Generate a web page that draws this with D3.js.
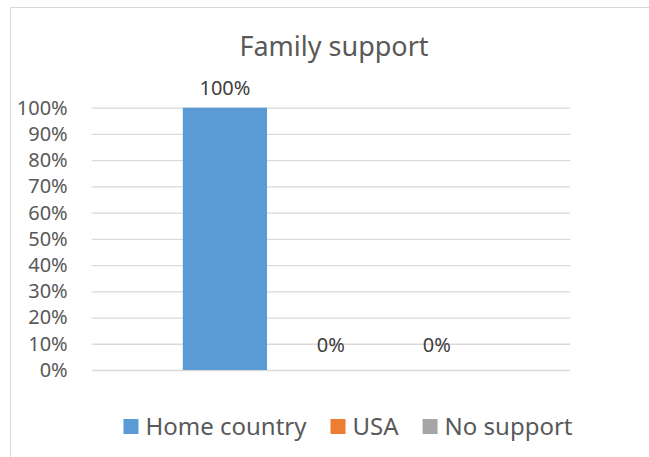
<!DOCTYPE html>
<html>
<head>
<meta charset="utf-8">
<script src="https://cdn.jsdelivr.net/npm/d3@7"></script>
<style>
  html, body { margin: 0; padding: 0; background: #fff; }
  svg { display: block; font-family: "Noto Sans", "Open Sans", sans-serif; }
</style>
</head>
<body>
<div id="chart"></div>
<script>
const title = 'Family support'
const seriesNames = ['Home country', 'USA', 'No support']
const seriesValues = [1.0, 0.0, 0.0]
const seriesColors = ['#5B9BD5', '#ED7D31', '#A5A5A5']
const yTicks = [0, 0.1, 0.2, 0.3, 0.4, 0.5, 0.6, 0.7, 0.8, 0.9, 1.0]

const width = 649
const height = 457
const plot = { left: 91.7, right: 570, top: 107.7, bottom: 370 }

const svg = d3.select('#chart').append('svg')
  .attr('width', width)
  .attr('height', height)

// chart frame (only top and left edges visible in crop)
svg.append('rect')
  .attr('x', 10.5)
  .attr('y', 7.5)
  .attr('width', width + 20)
  .attr('height', height + 20)
  .attr('fill', '#fff')
  .attr('stroke', '#D9D9D9')

const x = d3.scaleBand()
  .domain(seriesNames)
  .range([plot.left, plot.right])
  .paddingInner(0.205)
  .paddingOuter(0.86)

const y = d3.scaleLinear()
  .domain([0, 1])
  .range([plot.bottom, plot.top])

const fmt = d3.format('.0%')

// gridlines + tick labels
const yAxis = d3.axisLeft(y)
  .tickValues(yTicks)
  .tickFormat(fmt)
  .tickSize(-(plot.right - plot.left))
  .tickPadding(24)

const yg = svg.append('g')
  .attr('transform', `translate(${plot.left},0)`)
  .call(yAxis)
yg.select('.domain').remove()
yg.selectAll('.tick line')
  .attr('stroke', '#D9D9D9')
  .attr('stroke-width', 1.3)
yg.selectAll('.tick text')
  .attr('fill', '#595959')
  .attr('font-size', 20)
  .attr('font-family', '"Noto Sans", sans-serif')

// bars
svg.append('g')
  .selectAll('rect')
  .data(seriesNames)
  .join('rect')
  .attr('x', (d) => x(d))
  .attr('width', x.bandwidth())
  .attr('y', (d, i) => y(seriesValues[i]))
  .attr('height', (d, i) => y(0) - y(seriesValues[i]))
  .attr('fill', (d, i) => seriesColors[i])

// data labels
svg.append('g')
  .selectAll('text')
  .data(seriesNames)
  .join('text')
  .attr('x', (d) => x(d) + x.bandwidth() / 2)
  .attr('y', (d, i) => y(seriesValues[i]) - (seriesValues[i] > 0 ? 13 : 18))
  .attr('text-anchor', 'middle')
  .attr('font-size', 20)
  .attr('fill', '#404040')
  .text((d, i) => fmt(seriesValues[i]))

// title
svg.append('text')
  .attr('x', 334)
  .attr('y', 56)
  .attr('text-anchor', 'middle')
  .attr('font-size', 27)
  .attr('fill', '#595959')
  .text(title)

// legend, centred below the plot
const legend = svg.append('g')
const items = legend.selectAll('g')
  .data(seriesNames)
  .join('g')
items.append('rect')
  .attr('width', 15)
  .attr('height', 15)
  .attr('y', 419)
  .attr('fill', (d, i) => seriesColors[i])
items.append('text')
  .attr('x', 22)
  .attr('y', 435)
  .attr('font-size', 24)
  .attr('fill', '#595959')
  .text((d) => d)

let offset = 0
const positions = []
items.each(function () {
  const w = d3.select(this).select('text').node().getComputedTextLength()
  positions.push(offset)
  offset += 22 + w + 24
})
const total = offset - 24
const start = 348 - total / 2
items.attr('transform', (d, i) => `translate(${start + positions[i]},0)`)
</script>
</body>
</html>
